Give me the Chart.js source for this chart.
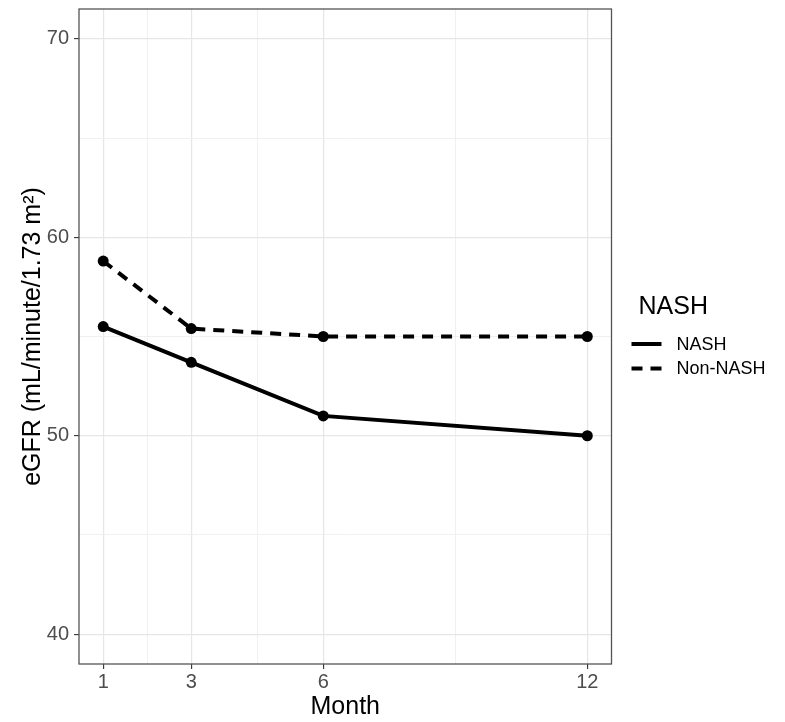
<!DOCTYPE html>
<html>
<head>
<meta charset="utf-8">
<title>eGFR by month</title>
<script src="https://cdn.jsdelivr.net/npm/chart.js@4.4.1/dist/chart.umd.min.js"></script>
<style>
    html, body { margin: 0; padding: 0; background: #ffffff; }
    #wrap { width: 785px; height: 722px; }
</style>
</head>
<body>
<div id="wrap"><canvas id="egfrChart" width="785" height="722"></canvas></div>
<script>
const months = [1, 3, 6, 12];
const nashValues = [55.5, 53.7, 51.0, 50.0];
const nonNashValues = [58.8, 55.4, 55.0, 55.0];
const seriesNames = ['NASH', 'Non-NASH'];

const xTickValues = [1, 3, 6, 12];
const xMinorValues = [2, 4.5, 9];
const yTickValues = [40, 50, 60, 70];
const yMinorValues = [45, 55, 65];

const FONT = '"Liberation Sans", Arial, Helvetica, sans-serif';

function toPoints(values) {
    return months.map((m, i) => ({ x: m, y: values[i] }));
}

function isMajor(list, value) {
    return list.indexOf(value) !== -1;
}

// ggplot style grid: majors carry a tick mark, minors only a faint line
function gridFor(majors) {
    return {
        color: ctx => isMajor(majors, ctx.tick && ctx.tick.value) ? '#e6e6e6' : '#eeeeee',
        lineWidth: ctx => isMajor(majors, ctx.tick && ctx.tick.value) ? 1.2 : 0.9,
        tickColor: ctx => isMajor(majors, ctx.tick && ctx.tick.value) ? '#333333' : 'rgba(0,0,0,0)',
        tickLength: 5,
        tickWidth: 1.1,
        drawTicks: true
    };
}

// keep the panel where layout.padding puts it, whatever the label sizes
function noEdgePadding(axis) {
    axis.paddingTop = 0;
    axis.paddingBottom = 0;
    axis.paddingLeft = 0;
    axis.paddingRight = 0;
}

const panelBorder = {
    id: 'panelBorder',
    afterDatasetsDraw(chart) {
        const a = chart.chartArea;
        const ctx = chart.ctx;
        ctx.save();
        ctx.strokeStyle = '#555555';
        ctx.lineWidth = 1.3;
        ctx.strokeRect(a.left, a.top, a.right - a.left, a.bottom - a.top);
        ctx.restore();
    }
};

const sideLegend = {
    id: 'sideLegend',
    afterDraw(chart) {
        const ctx = chart.ctx;
        const left = chart.chartArea.right + 20;
        ctx.save();
        ctx.fillStyle = '#000000';
        ctx.textBaseline = 'middle';
        ctx.textAlign = 'left';
        ctx.font = '25px ' + FONT;
        ctx.fillText('NASH', left + 7, 307);

        chart.data.datasets.forEach((ds, i) => {
            const y = 344 + i * 24.5;
            ctx.strokeStyle = ds.borderColor;
            ctx.lineWidth = 4;
            ctx.lineCap = 'butt';
            ctx.setLineDash(ds.borderDash || []);
            ctx.beginPath();
            ctx.moveTo(left, y);
            ctx.lineTo(left + 30, y);
            ctx.stroke();
            ctx.setLineDash([]);
            ctx.font = '18px ' + FONT;
            ctx.fillText(ds.label, left + 45, y + 1);
        });
        ctx.restore();
    }
};

const ctx = document.getElementById('egfrChart').getContext('2d');

new Chart(ctx, {
    type: 'line',
    data: {
        datasets: [
            {
                label: seriesNames[0],
                data: toPoints(nashValues),
                borderColor: '#000000',
                backgroundColor: '#000000',
                borderWidth: 4,
                pointRadius: 5.5,
                pointBorderWidth: 0,
                tension: 0
            },
            {
                label: seriesNames[1],
                data: toPoints(nonNashValues),
                borderColor: '#000000',
                backgroundColor: '#000000',
                borderWidth: 4,
                borderDash: [11, 8],
                pointRadius: 5.5,
                pointBorderWidth: 0,
                tension: 0
            }
        ]
    },
    options: {
        responsive: false,
        animation: false,
        devicePixelRatio: 1,
        layout: {
            padding: { top: 9, right: 173.5, left: 0, bottom: 0 }
        },
        plugins: {
            legend: { display: false },
            tooltip: { enabled: false }
        },
        scales: {
            x: {
                type: 'linear',
                min: 0.45,
                max: 12.55,
                afterBuildTicks: axis => {
                    axis.ticks = xTickValues.concat(xMinorValues)
                        .sort((a, b) => a - b)
                        .map(v => ({ value: v }));
                },
                afterFit: axis => {
                    axis.height = 58;
                    noEdgePadding(axis);
                },
                border: { display: false },
                grid: gridFor(xTickValues),
                ticks: {
                    autoSkip: false,
                    maxRotation: 0,
                    padding: 1,
                    color: '#4d4d4d',
                    font: { family: FONT, size: 20 },
                    callback: v => isMajor(xTickValues, v) ? String(v) : ''
                },
                title: {
                    display: true,
                    text: 'Month',
                    color: '#000000',
                    padding: { top: 0, bottom: 0 },
                    font: { family: FONT, size: 25 }
                }
            },
            y: {
                type: 'linear',
                min: 38.5,
                max: 71.5,
                afterBuildTicks: axis => {
                    axis.ticks = yTickValues.concat(yMinorValues)
                        .sort((a, b) => a - b)
                        .map(v => ({ value: v }));
                },
                afterFit: axis => {
                    axis.width = 79;
                    noEdgePadding(axis);
                },
                border: { display: false },
                grid: gridFor(yTickValues),
                ticks: {
                    autoSkip: false,
                    padding: 5,
                    color: '#4d4d4d',
                    font: { family: FONT, size: 20 },
                    callback: v => isMajor(yTickValues, v) ? String(v) : ''
                },
                title: {
                    display: true,
                    text: 'eGFR (mL/minute/1.73 m²)',
                    color: '#000000',
                    padding: { top: 18, bottom: 0 },
                    font: { family: FONT, size: 25 }
                }
            }
        }
    },
    plugins: [panelBorder, sideLegend]
});
</script>
</body>
</html>
